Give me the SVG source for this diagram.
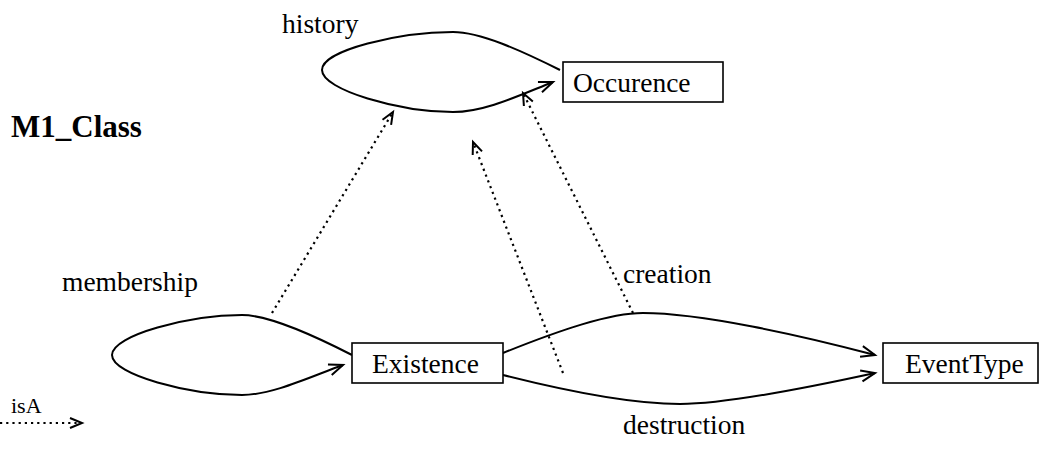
<svg xmlns="http://www.w3.org/2000/svg" width="1046" height="462" viewBox="0 0 1046 462">
<style>
text{font-family:"Liberation Serif","Times New Roman",serif;fill:#000}
.lbl{font-size:27.5px}
.node{fill:#fff;stroke:#000;stroke-width:1.6}
.edge{fill:none;stroke:#000;stroke-width:2}
.isa{fill:none;stroke:#000;stroke-width:2.2;stroke-dasharray:2.2 4}
</style>
<defs>
<marker id="arr" markerUnits="userSpaceOnUse" markerWidth="20" markerHeight="20" viewBox="-16 -8 20 16" refX="0" refY="0" orient="auto">
<path d="M-14,-5.5 L0,0 L-14,5.5" fill="none" stroke="#000" stroke-width="2"/>
</marker>
<marker id="arrd" markerUnits="userSpaceOnUse" markerWidth="20" markerHeight="20" viewBox="-16 -8 20 16" refX="0" refY="0" orient="auto">
<path d="M-12,-5 L0,0 L-12,5" fill="none" stroke="#000" stroke-width="2"/>
</marker>
</defs>
<text x="11" y="137" font-size="31" font-weight="bold">M1_Class</text>
<g id="connectors">
<path class="edge" d="M560,70 C520,50 480,32 453,32 C400,32 322,50 322,70 C322,90 400,112 453,112 C485,112 520,95 553,82" marker-end="url(#arr)"/>
<path class="edge" d="M352,355 C315,336 270,315 242,315 C190,315 112,335 112,355 C112,375 190,395 242,395 C272,395 310,377 343,365" marker-end="url(#arr)"/>
<path class="edge" d="M503,353 C560,330 610,313 643,313 C700,313 800,335 875,355" marker-end="url(#arr)"/>
<path class="edge" d="M503,375 C570,392 630,404 680,404 C730,404 820,385 875,373" marker-end="url(#arr)"/>
<line class="isa" x1="272" y1="313" x2="393" y2="112" marker-end="url(#arrd)"/>
<line class="isa" x1="563" y1="373" x2="473" y2="142" marker-end="url(#arrd)"/>
<line class="isa" x1="633" y1="313" x2="523" y2="93" marker-end="url(#arrd)"/>
<line class="isa" x1="0" y1="423" x2="82" y2="423" marker-end="url(#arrd)"/>
<text class="lbl" x="282" y="33">history</text>
<text class="lbl" x="62" y="291">membership</text>
<text class="lbl" x="623" y="283">creation</text>
<text class="lbl" x="623" y="434">destruction</text>
<text x="11" y="413" font-size="22">isA</text>
</g>
<g id="occurence"><rect class="node" x="563" y="62" width="160" height="40"/><text class="lbl" x="573" y="92">Occurence</text></g>
<g id="existence"><rect class="node" x="352" y="343" width="151" height="40"/><text class="lbl" x="372" y="373">Existence</text></g>
<g id="eventtype"><rect class="node" x="883" y="343" width="155" height="40"/><text class="lbl" x="905" y="373">EventType</text></g>
</svg>
